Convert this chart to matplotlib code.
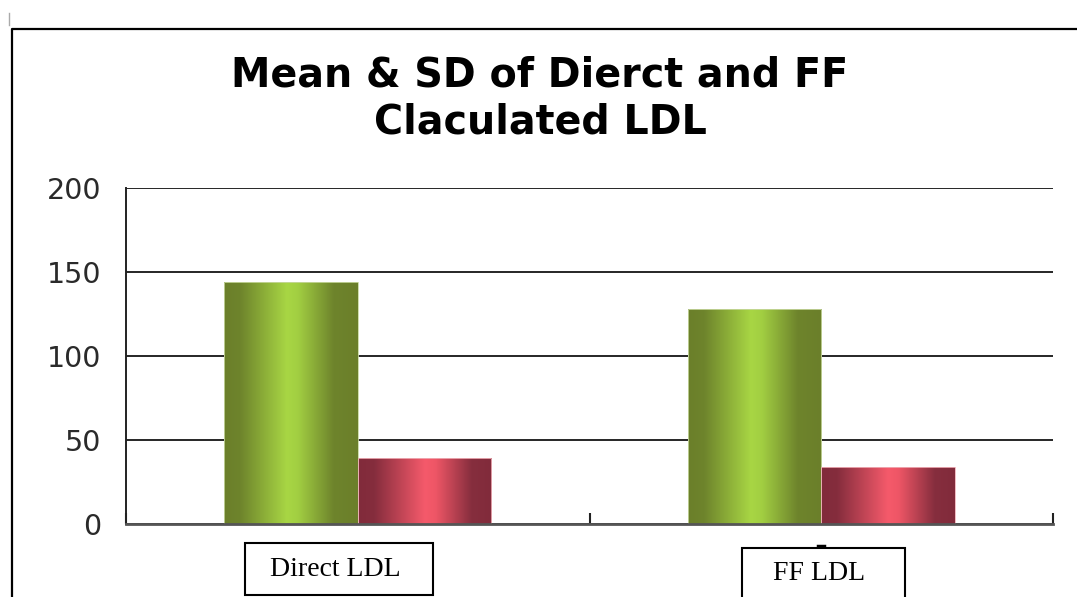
import numpy as np
import matplotlib
matplotlib.use("Agg")
import matplotlib.pyplot as plt
from matplotlib.colors import LinearSegmentedColormap
from matplotlib.patches import Rectangle
from matplotlib.lines import Line2D

# ---- data ----
categories = ["Direct LDL", "FF LDL"]
mean_values = [144.2, 128.0]
sd_values = [39.5, 33.7]
y_ticks = [0, 50, 100, 150, 200]
title = "Mean & SD of Dierct and FF\nClaculated LDL"

W, H = 1077, 597
fig = plt.figure(figsize=(W / 100, H / 100), dpi=100)
fig.patch.set_facecolor("white")

ax = fig.add_axes([126 / W, 1 - 524 / H, (1053 - 126) / W, (524 - 188) / H])
ax.set_facecolor("white")

x = np.arange(len(categories))
w = 0.288

green_cmap = LinearSegmentedColormap.from_list(
    "g", [(0.0, "#6b7f2a"), (0.12, "#6e842c"), (0.47, "#a8d644"),
          (0.55, "#a2cf42"), (0.82, "#6e842c"), (1.0, "#6b7f2a")])
red_cmap = LinearSegmentedColormap.from_list(
    "r", [(0.0, "#812b3b"), (0.12, "#852d3d"), (0.5, "#f55a6b"),
          (0.58, "#ee5666"), (0.85, "#862e3e"), (1.0, "#812b3b")])

bars_mean = ax.bar(x - w / 2, mean_values, w, color="none", edgecolor="#c8d8a0",
                   linewidth=0.6, zorder=3)
bars_sd = ax.bar(x + w / 2, sd_values, w, color="none", edgecolor="#f0b0b8",
                 linewidth=0.6, zorder=3)

ax.set_xlim(-0.5, len(categories) - 0.5)
ax.set_ylim(0, 200)

grad = np.linspace(0, 1, 256).reshape(1, -1)
for bars, cmap in ((bars_mean, green_cmap), (bars_sd, red_cmap)):
    for b in bars:
        x0, y0 = b.get_x(), b.get_y()
        bw, bh = b.get_width(), b.get_height()
        im = ax.imshow(grad, cmap=cmap, aspect="auto",
                       extent=[x0, x0 + bw, y0, y0 + bh], zorder=2,
                       interpolation="bilinear")
        im.set_clip_path(b)
ax.set_xlim(-0.5, len(categories) - 0.5)
ax.set_ylim(0, 200)
ax.set_aspect("auto")

# gridlines
ax.set_yticks(y_ticks)
ax.yaxis.grid(True, color="#262626", linewidth=1.4)
ax.set_axisbelow(True)
ax.tick_params(axis="y", length=0, pad=18, labelsize=20.5, labelcolor="#2a2a2a")
for lab in ax.get_yticklabels():
    lab.set_family("DejaVu Sans")

ax.set_xticks([-0.5, 0.5, 1.5])
ax.set_xticklabels([])
ax.tick_params(axis="x", direction="in", length=8, width=1.5, color="#222222")

for s in ("top", "right"):
    ax.spines[s].set_visible(False)
ax.spines["left"].set_color("#222222")
ax.spines["left"].set_linewidth(1.4)
ax.spines["bottom"].set_color("#555555")
ax.spines["bottom"].set_linewidth(2.0)
ax.spines["bottom"].set_zorder(4)

# title
fig.text(540 / W, 1 - 99 / H, title, ha="center", va="center",
         fontsize=28.5, fontweight="bold", family="DejaVu Sans",
         linespacing=1.25, color="black")

# category label boxes
box_specs = [(245, 543, 188, 52), (742, 548, 163, 52)]
for (bx, by, bw_, bh_), cat in zip(box_specs, categories):
    fig.patches.append(Rectangle((bx / W, 1 - (by + bh_) / H), bw_ / W, bh_ / H,
                                 transform=fig.transFigure, facecolor="white",
                                 edgecolor="black", linewidth=1.5, zorder=5))
    fig.text((bx + bw_ / 2 - 4) / W, 1 - (by + 26) / H, cat, ha="center",
             va="center", fontsize=20, family="Liberation Serif", zorder=6)

# small mark above second box
fig.lines.append(Line2D([818 / W, 824 / W], [1 - 546 / H, 1 - 546 / H],
                        transform=fig.transFigure, color="black", linewidth=2.5))

# outer frame lines
fig.lines.append(Line2D([12 / W, 12 / W, 1.0], [0.0, 1 - 29 / H, 1 - 29 / H],
                        transform=fig.transFigure, color="black", linewidth=1.6))
fig.lines.append(Line2D([9 / W, 9 / W], [1 - 13 / H, 1 - 25 / H],
                        transform=fig.transFigure, color="#aaaaaa", linewidth=1.0))

fig.savefig("out.png", dpi=100, facecolor="white")
